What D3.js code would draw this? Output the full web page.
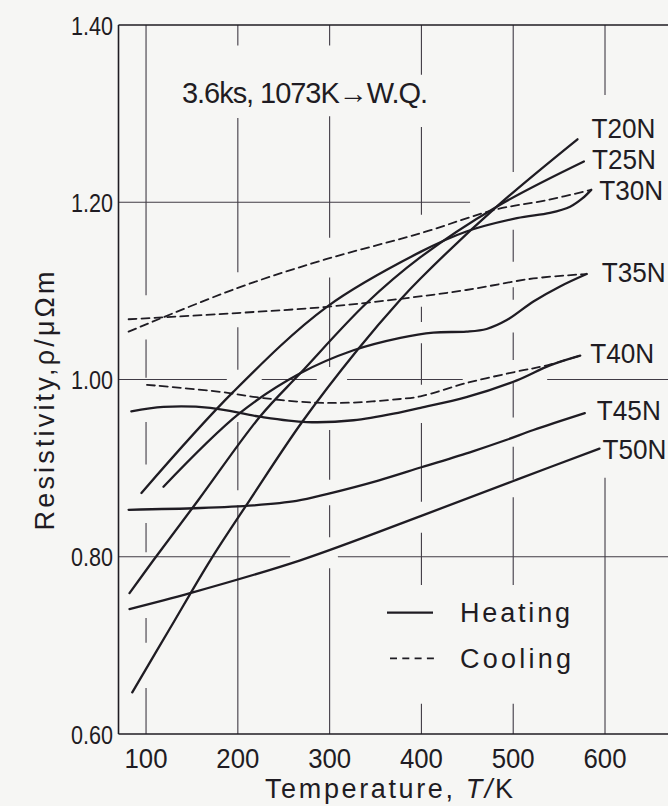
<!DOCTYPE html>
<html>
<head>
<meta charset="utf-8">
<script src="https://cdn.jsdelivr.net/npm/d3@7/dist/d3.min.js"></script>
<style>
  html, body { margin: 0; padding: 0; background: #f6f6f4; }
  svg { display: block; }
  text { font-family: "Liberation Sans", Arial, sans-serif; fill: #1f1c23; }
</style>
</head>
<body>
<svg id="chart" width="668" height="806"></svg>
<script>
// Temperature ticks (K) and resistivity ticks (μΩm)
const tempTicks = [100, 200, 300, 400, 500, 600];
const rhoTicks = [0.60, 0.80, 1.00, 1.20, 1.40];
const rhoTickLabels = ["0.60", "0.80", "1.00", "1.20", "1.40"];

// Heating curves: [T (K), ρ (μΩm)]
const heatT20N = [[85,0.647],[126,0.719],[170,0.796],[213,0.864],[270,0.952],[330,1.033],[377,1.090],[399,1.114],[482,1.195],[570,1.271]];
const heatT25N = [[82,0.759],[108,0.796],[157,0.864],[224,0.958],[268,1.007],[340,1.086],[399,1.138],[482,1.195],[577,1.246]];
const heatT30N = [[95,0.872],[195,0.986],[297,1.082],[399,1.144],[449,1.167],[504,1.182],[540,1.188],[562,1.195],[575,1.204],[585,1.214]];
const heatT35N = [[119,0.879],[202,0.962],[268,1.007],[326,1.033],[377,1.047],[413,1.053],[449,1.054],[471,1.057],[493,1.067],[522,1.088],[551,1.105],[580,1.119]];
const heatT40N = [[84,0.964],[119,0.969],[170,0.968],[224,0.958],[275,0.952],[326,0.954],[377,0.963],[399,0.968],[449,0.980],[504,0.999],[540,1.016],[573,1.027]];
const heatT45N = [[81,0.853],[159,0.855],[217,0.858],[264,0.863],[298,0.871],[353,0.886],[400,0.901],[456,0.919],[493,0.932],[522,0.943],[578,0.962]];
const heatT50N = [[82,0.741],[148,0.759],[268,0.796],[402,0.847],[504,0.887],[594,0.922]];

// Cooling curves
const coolT30N = [[81,1.054],[199,1.103],[297,1.136],[399,1.165],[482,1.192],[535,1.202],[585,1.214]];
const coolT35N = [[81,1.068],[199,1.075],[297,1.082],[377,1.091],[449,1.101],[522,1.114],[580,1.119]];
const coolT40N = [[101,0.994],[181,0.986],[228,0.979],[282,0.974],[326,0.974],[377,0.978],[399,0.981],[449,0.996],[504,1.009],[537,1.016],[573,1.027]];

const alloyNames = ["T20N", "T25N", "T30N", "T35N", "T40N", "T45N", "T50N"];
const heatingSeries = [heatT20N, heatT25N, heatT30N, heatT35N, heatT40N, heatT45N, heatT50N];
const coolingSeries = [coolT30N, coolT35N, coolT40N];

// Hand-drafted grid: lines are broken where curves and text pass
const vGrid = [
  { t: 100, spans: [[0.600,0.652],[0.703,0.731],[0.805,0.838],[0.904,0.952],[1.002,1.045],[1.095,1.400]] },
  { t: 200, spans: [[0.600,0.858],[0.875,0.952],[1.011,1.059],[1.121,1.295],[1.377,1.400]] },
  { t: 300, spans: [[0.600,0.787],[0.822,0.858],[0.887,0.943],[1.014,1.115],[1.160,1.297],[1.377,1.400]] },
  { t: 400, spans: [[0.600,0.634],[0.768,0.827],[0.862,0.951],[0.994,1.041],[1.065,1.082],[1.186,1.285],[1.344,1.400]] },
  { t: 500, spans: [[0.600,0.634],[0.768,0.867],[0.887,0.924],[0.957,0.996],[1.022,1.053],[1.090,1.104],[1.133,1.169],[1.234,1.400]] },
  { t: 600, spans: [[0.600,0.889],[1.321,1.400]] }
];
const hGrid = [
  { rho: 0.80, spans: [[70,257],[309,700]] },
  { rho: 1.00, spans: [[70,188],[226,286],[319,445],[537,700]] },
  { rho: 1.20, spans: [[70,453]] }
];

const ink = "#1f1c23";
const svg = d3.select("#chart");

const x = d3.scaleLinear().domain([70, 700]).range([118.5, 696.8]);
const y = d3.scaleLinear().domain([0.60, 1.40]).range([734, 25]);

// Grid segments
const gridG = svg.append("g").attr("stroke", "#403b45").attr("stroke-width", 1.1);
vGrid.forEach(g => g.spans.forEach(s => {
  gridG.append("line")
    .attr("x1", x(g.t)).attr("x2", x(g.t))
    .attr("y1", y(s[0])).attr("y2", y(s[1]));
}));
hGrid.forEach(g => g.spans.forEach(s => {
  gridG.append("line")
    .attr("x1", x(s[0])).attr("x2", x(s[1]))
    .attr("y1", y(g.rho)).attr("y2", y(g.rho));
}));

// Frame: left, bottom and top axes
const frame = svg.append("g").attr("stroke", ink).attr("stroke-width", 1.6).attr("fill", "none");
frame.append("line").attr("x1", x(70)).attr("x2", x(70)).attr("y1", y(1.40)).attr("y2", y(0.60));
frame.append("line").attr("x1", x(70)).attr("x2", x(700)).attr("y1", y(0.60)).attr("y2", y(0.60));
frame.append("line").attr("x1", x(70)).attr("x2", x(700)).attr("y1", y(1.40)).attr("y2", y(1.40));

// Tick labels
svg.append("g").selectAll("text").data(tempTicks).join("text")
  .attr("x", d => x(d)).attr("y", 767.5)
  .attr("text-anchor", "middle")
  .attr("font-size", 27)
  .attr("textLength", 43).attr("lengthAdjust", "spacingAndGlyphs")
  .text(d => d);

svg.append("g").selectAll("text").data(rhoTicks).join("text")
  .attr("x", 113).attr("y", d => y(d) + 9.5)
  .attr("text-anchor", "end")
  .attr("font-size", 26)
  .attr("textLength", 42).attr("lengthAdjust", "spacingAndGlyphs")
  .text((d, i) => rhoTickLabels[i]);

// Axis titles
const xTitle = svg.append("text")
  .attr("x", 389).attr("y", 797.5)
  .attr("text-anchor", "middle")
  .attr("font-size", 27)
  .attr("textLength", 248).attr("lengthAdjust", "spacing");
xTitle.append("tspan").text("Temperature, ");
xTitle.append("tspan").attr("font-style", "italic").text("T");
xTitle.append("tspan").attr("font-style", "italic").text("/");
xTitle.append("tspan").text("K");

svg.append("text")
  .attr("transform", "translate(54,401) rotate(-90)")
  .attr("text-anchor", "middle")
  .attr("font-size", 27)
  .attr("textLength", 259).attr("lengthAdjust", "spacing")
  .text("Resistivity,ρ/μΩm");

// Treatment note
svg.append("text")
  .attr("x", 182).attr("y", 103)
  .attr("font-size", 29)
  .attr("textLength", 246).attr("lengthAdjust", "spacing")
  .text("3.6ks, 1073K\u2192W.Q.");

// Curves
const line = d3.line()
  .x(d => x(d[0]))
  .y(d => y(d[1]))
  .curve(d3.curveCatmullRom.alpha(0.5));

const curveG = svg.append("g").attr("fill", "none").attr("stroke", ink)
  .attr("stroke-linecap", "round").attr("stroke-linejoin", "round");

coolingSeries.forEach(s => {
  curveG.append("path").attr("d", line(s))
    .attr("stroke-width", 1.8)
    .attr("stroke-dasharray", "8,5");
});
heatingSeries.forEach(s => {
  curveG.append("path").attr("d", line(s))
    .attr("stroke-width", 2.3);
});

// Alloy labels at the ends of the heating curves
const labelOffsets = { T20N: [14, -1], T25N: [8, 8], T30N: [8, 10], T35N: [15, 8], T40N: [10, 7], T45N: [12, 7], T50N: [3, 10] };
heatingSeries.forEach((s, i) => {
  const name = alloyNames[i];
  const end = s[s.length - 1];
  const off = labelOffsets[name];
  svg.append("text")
    .attr("x", x(end[0]) + off[0])
    .attr("y", y(end[1]) + off[1])
    .attr("font-size", 27)
    .attr("textLength", 64).attr("lengthAdjust", "spacingAndGlyphs")
    .text(name);
});

// Legend
const leg = svg.append("g");
leg.append("line").attr("x1", 387).attr("x2", 433).attr("y1", 612.7).attr("y2", 612.7)
  .attr("stroke", ink).attr("stroke-width", 2.3);
leg.append("line").attr("x1", 390).attr("x2", 434).attr("y1", 658.3).attr("y2", 658.3)
  .attr("stroke", ink).attr("stroke-width", 1.8).attr("stroke-dasharray", "7,5.3");
leg.append("text").attr("x", 460).attr("y", 621.7).attr("font-size", 27)
  .attr("textLength", 110).attr("lengthAdjust", "spacing").text("Heating");
leg.append("text").attr("x", 460).attr("y", 668.3).attr("font-size", 27)
  .attr("textLength", 111).attr("lengthAdjust", "spacing").text("Cooling");
</script>
</body>
</html>
